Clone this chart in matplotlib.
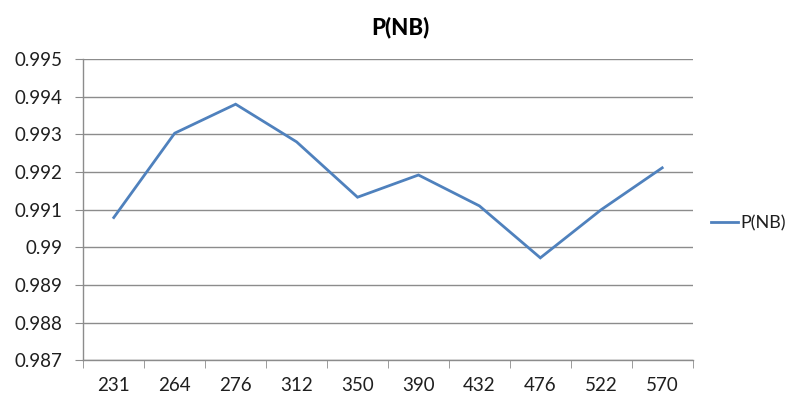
import matplotlib
matplotlib.use("Agg")
import matplotlib.pyplot as plt
import numpy as np

categories = ["231", "264", "276", "312", "350", "390", "432", "476", "522", "570"]
p_nb = [0.99079, 0.99303, 0.99380, 0.99280, 0.99133, 0.99192, 0.99110, 0.98972, 0.99100, 0.99211]
y_ticks = [0.987, 0.988, 0.989, 0.99, 0.991, 0.992, 0.993, 0.994, 0.995]
y_labels = ["0.987", "0.988", "0.989", "0.99", "0.991", "0.992", "0.993", "0.994", "0.995"]

plt.rcParams['font.family'] = ['Lato', 'DejaVu Sans']

fig = plt.figure(figsize=(7.91, 3.96), dpi=100)
ax = fig.add_axes([0.1053, 0.0902, 0.7704, 0.7608])

x = np.arange(len(categories))
line, = ax.plot(x, p_nb, color="#4F81BD", linewidth=2.0, label="P(NB)", solid_joinstyle="miter")

ax.set_xlim(-0.5, len(categories) - 0.5)
ax.set_ylim(0.987, 0.995)
ax.set_yticks(y_ticks)
ax.set_yticklabels(y_labels)
ax.set_xticks(x)
ax.set_xticklabels(categories)
ax.set_xticks(np.arange(-0.5, len(categories)), minor=True)

ax.grid(axis="y", color="#8C8C8C", linewidth=1.0)
ax.set_axisbelow(True)
for s in ["top", "right"]:
    ax.spines[s].set_visible(False)
for s in ["left", "bottom"]:
    ax.spines[s].set_color("#8C8C8C")
    ax.spines[s].set_linewidth(1.0)

ax.tick_params(axis="y", which="major", length=6, color="#8C8C8C", labelsize=13.5, labelcolor="#1F1F1F", pad=9)
ax.tick_params(axis="x", which="major", length=0, labelsize=13.5, labelcolor="#1F1F1F", pad=12)
ax.tick_params(axis="x", which="minor", length=6, color="#8C8C8C")

fig.text(0.506, 0.93, "P(NB)", ha="center", va="center", fontsize=16, fontweight="black", color="#000000")

fig.legend(handles=[line], labels=["P(NB)"], loc="center left", bbox_to_anchor=(0.899, 0.437),
           frameon=False, fontsize=13, handlelength=1.5, handletextpad=0.1, borderaxespad=0, borderpad=0,
           labelcolor="#1F1F1F")

fig.savefig("out.png", dpi=100)
